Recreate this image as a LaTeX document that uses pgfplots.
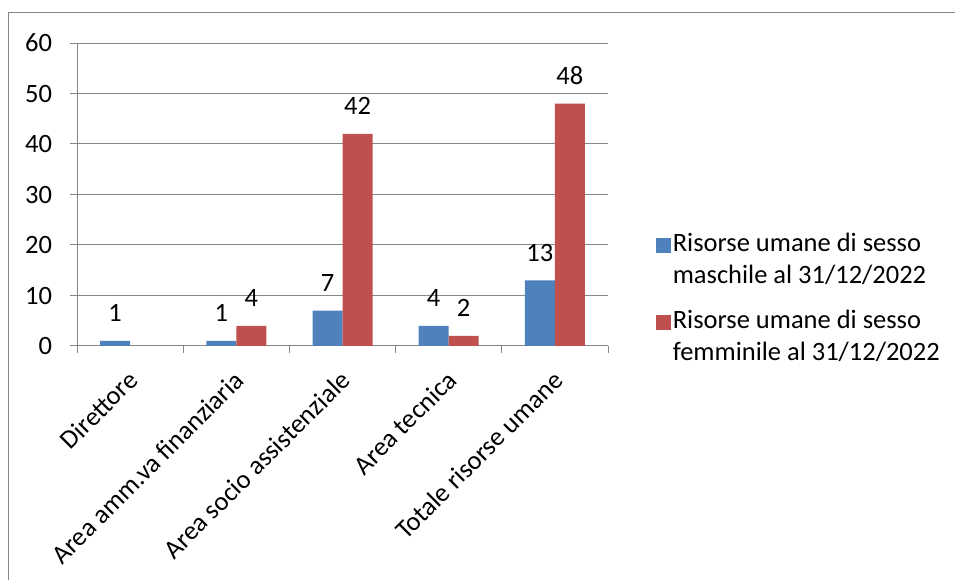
\documentclass[border=0pt]{standalone}
\usepackage{fontspec}
\setmainfont{Carlito}
\usepackage{pgfplots}
\pgfplotsset{compat=1.18}
\definecolor{cblue}{HTML}{4F81BD}
\definecolor{cred}{HTML}{C0504D}
\definecolor{cgrid}{HTML}{878787}
\begin{document}
\fontsize{26.5}{32}\selectfont
\begin{tikzpicture}[x=1pt,y=1pt]
\useasboundingbox (0,0) rectangle (955,580);
\draw[cgrid, line width=1.3pt] (8.5,0) -- (8.5,567.5) -- (955,567.5);
\begin{axis}[
  at={(77pt,234pt)}, anchor=south west,
  scale only axis, width=531pt, height=303pt,
  ybar=0pt, bar width=30pt,
  xmin=-0.5, xmax=4.5, ymin=0, ymax=60,
  ytick={0,10,...,60},
  ymajorgrids, grid style={cgrid, line width=1pt},
  axis x line*=bottom, axis y line*=left,
  axis line style={cgrid, line width=1pt},
  xtick={0,...,4},
  xticklabels={Direttore, Area amm.va finanziaria, Area socio assistenziale, Area tecnica, Totale risorse umane},
  minor xtick={-0.5,0.5,...,4.5},
  major x tick style={draw=none},
  tick align=outside, major tick length=7pt, minor tick length=7pt,
  tick style={cgrid, line width=1pt},
  tick label style={font=\fontsize{26.5}{32}\selectfont},
  yticklabel style={anchor=east, xshift=-9pt},
  x tick label style={rotate=45, anchor=north east, xshift=-5pt},
  /pgf/number format/assume math mode=true,
  nodes near coords,
  every node near coord/.append style={font=\fontsize{26.5}{32}\selectfont, yshift=10pt},
  legend style={at={(1.084,0.385)}, anchor=north west, draw=none, fill=none,
    font=\fontsize{26.5}{31.5}\selectfont, cells={align=left}, row sep=19pt},
  legend cell align=left,
  legend image code/.code={\fill[#1,draw=none] (-2pt,7pt) rectangle (13pt,22pt);},
]
\addplot[fill=cblue, draw=none] coordinates {(0,1) (1,1) (2,7) (3,4) (4,13)};
\addlegendentry{Risorse umane di sesso\\maschile al 31/12/2022}
\addplot[fill=cred, draw=none] coordinates {(1,4) (2,42) (3,2) (4,48)};
\addlegendentry{Risorse umane di sesso\\femminile al 31/12/2022}
\end{axis}
\end{tikzpicture}
\end{document}
